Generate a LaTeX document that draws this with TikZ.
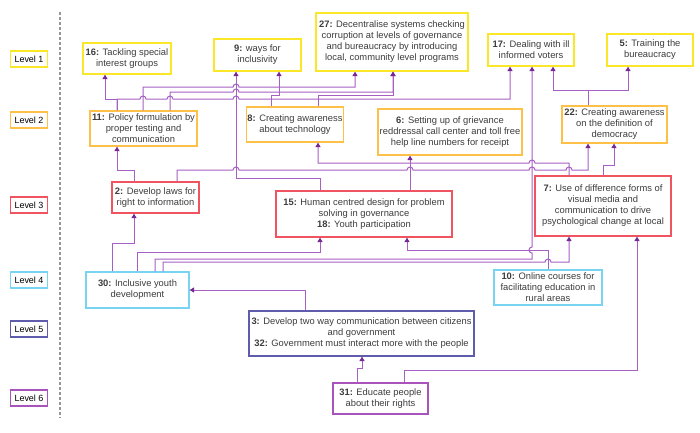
\documentclass[tikz,border=0pt]{standalone}
\usepackage{fontspec}
\setmainfont{Liberation Sans}
\usetikzlibrary{arrows.meta}
\definecolor{cY}{RGB}{250,232,40}
\definecolor{cO}{RGB}{255,192,72}
\definecolor{cR}{RGB}{240,84,96}
\definecolor{cB}{RGB}{120,212,240}
\definecolor{cN}{RGB}{96,92,172}
\definecolor{cP}{RGB}{168,84,188}
\definecolor{lineC}{RGB}{166,96,196}
\definecolor{tipC}{RGB}{118,40,150}
\definecolor{txtC}{RGB}{60,60,60}
\definecolor{dashC}{RGB}{150,150,150}
\begin{document}
\begin{tikzpicture}[x=1bp,y=-1bp,
  box/.style={draw, line width=1.2bp, fill=white, align=center, inner sep=1bp, text=txtC, font=\fontsize{9.4}{11}\selectfont},
  lvl/.style={draw, line width=1.2bp, fill=white, inner sep=1bp, text=black, font=\fontsize{9}{10}\selectfont, minimum width=37bp, minimum height=16bp},
  con/.style={draw=lineC, line width=1bp},
  arr/.style={con, -{Triangle[width=5bp,length=4.5bp,color=tipC]}}]
\useasboundingbox (0,0) rectangle (700,432);
% level labels
\node[lvl, draw=cY] (L1) at (29,59) {Level 1};
\node[lvl, draw=cO] (L2) at (29,120) {Level 2};
\node[lvl, draw=cR] (L3) at (29,205) {Level 3};
\node[lvl, draw=cB] (L4) at (29,280) {Level 4};
\node[lvl, draw=cN] (L5) at (29,329) {Level 5};
\node[lvl, draw=cP] (L6) at (29,398) {Level 6};
\draw[dashC, line width=1.2bp, dash pattern=on 3bp off 2bp] (60,12) -- (60,418);
% level 1
\node[box, draw=cY, minimum width=88bp, minimum height=31bp] (n16) at (127,58.5) {\textbf{16:} Tackling special\\interest groups};
\node[box, draw=cY, minimum width=87bp, minimum height=32bp] (n9) at (257.5,55) {\textbf{9:} ways for\\inclusivity};
\node[box, draw=cY, minimum width=152bp, minimum height=58bp] (n27) at (392,42) {\textbf{27:} Decentralise systems checking\\corruption at levels of governance\\and bureaucracy by introducing\\local, community level programs};
\node[box, draw=cY, minimum width=86bp, minimum height=32bp] (n17) at (531,50) {\textbf{17:} Dealing with ill\\informed voters};
\node[box, draw=cY, minimum width=86bp, minimum height=32bp] (n5) at (650,50) {\textbf{5:} Training the\\bureaucracy};
% level 2
\node[box, draw=cO, minimum width=107bp, minimum height=35bp] (n11) at (143.5,128.5) {\textbf{11:} Policy formulation by\\proper testing and\\communication};
\node[box, draw=cO, minimum width=96bp, minimum height=35bp] (n8) at (295,124.5) {\textbf{8:} Creating awareness\\about technology};
\node[box, draw=cO, minimum width=144bp, minimum height=46bp] (n6) at (450,132) {\textbf{6:} Setting up of grievance\\reddressal call center and toll free\\help line numbers for receipt};
\node[box, draw=cO, minimum width=105bp, minimum height=37bp] (n22) at (614.5,124.5) {\textbf{22:} Creating awareness\\on the definition of\\democracy};
% level 3
\node[box, draw=cR, minimum width=87bp, minimum height=31bp] (n2) at (155.5,197.5) {\textbf{2:} Develop laws for\\right to information};
\node[box, draw=cR, minimum width=176bp, minimum height=46bp] (n15) at (364,214) {\textbf{15:} Human centred design for problem\\solving in governance\\\textbf{18:} Youth participation};
\node[box, draw=cR, minimum width=136bp, minimum height=60bp] (n7) at (603,206) {\textbf{7:} Use of difference forms of\\visual media and\\communication to drive\\psychological change at local};
% level 4
\node[box, draw=cB, minimum width=103bp, minimum height=36bp] (n30) at (137.5,290) {\textbf{30:} Inclusive youth\\development};
\node[box, draw=cB, minimum width=108bp, minimum height=35bp] (n10) at (548,287.5) {\textbf{10:} Online courses for\\facilitating education in\\rural areas};
% level 5
\node[box, draw=cN, minimum width=225bp, minimum height=45bp] (n3) at (361.5,333.5) {\textbf{3:} Develop two way communication between citizens\\and government\\\textbf{32:} Government must interact more with the people};
% level 6
\node[box, draw=cP, minimum width=95bp, minimum height=31bp] (n31) at (380.5,398.5) {\textbf{31:} Educate people\\about their rights};
% connectors level 2 -> 1
\draw[arr] (n11.north -| 117,0) |- (105,99) -- (n16.south -| 105,0);
\draw[arr] (n11.north -| 117,0) -- (117,99) -- (140,99) arc[start angle=180,end angle=0,radius=3bp] -- (167,99) arc[start angle=180,end angle=0,radius=3bp] -- (233,99) arc[start angle=180,end angle=0,radius=3bp] -- (510,99) -- (n17.south -| 510,0);
\draw[arr] (n11.north -| 143,0) -- (143,87) -- (233,87) arc[start angle=180,end angle=0,radius=3bp] -- (355,87) -- (n27.south -| 355,0);
\draw[arr] (n11.north -| 170,0) -- (170,92) -- (233,92) arc[start angle=180,end angle=0,radius=3bp] -- (393,92) -- (n27.south -| 393,0);
\draw[arr] (n8.north -| 318,0) |- (393,95) -- (n27.south -| 393,0);
\draw[arr] (n8.north -| 271,0) |- (279,95) -- (n9.south -| 279,0);
\draw[arr] (n22.north -| 588,0) |- (628,90) -- (n5.south -| 628,0);
\draw[arr] (n22.north -| 588,0) |- (553,90) -- (n17.south -| 553,0);
% level 3 -> upper
\draw[arr] (n15.north -| 320,0) |- (236,178) -- (n9.south -| 236,0);
\draw[arr] (n2.north -| 134,0) |- (117,170) -- (n11.south -| 117,0);
\draw[arr] (n2.north -| 177,0) -- (177,170) -- (233,170) arc[start angle=180,end angle=0,radius=3bp] -- (407,170) arc[start angle=180,end angle=0,radius=3bp] -- (529,170) arc[start angle=180,end angle=0,radius=3bp] -- (566,170) arc[start angle=180,end angle=0,radius=3bp] -- (588,170) -- (n22.south -| 588,0);
\draw[arr] (n15.north -| 410,0) -- (n6.south -| 410,0);
\draw[arr] (n7.north -| 569,0) -- (569,163) -- (535,163) arc[start angle=0,end angle=180,radius=3bp] -- (318,163) -- (n8.south -| 318,0);
\draw[arr] (n7.north -| 603,0) |- (614,165) -- (n22.south -| 614,0);
% level 4 -> upper
\draw[arr] (n30.north -| 155,0) -- (155,259) -- (532,259) -- (532,253) arc[start angle=270,end angle=90,radius=3bp] -- (n17.south -| 532,0);
\draw[arr] (n30.north -| 163,0) -- (163,262) -- (545,262) arc[start angle=180,end angle=0,radius=3bp] -- (569,262) -- (n7.south -| 569,0);
\draw[arr] (n10.north -| 548,0) |- (407,250) -- (n15.south -| 407,0);
\draw[arr] (n30.north -| 137,0) |- (320,252) -- (n15.south -| 320,0);
\draw[arr] (n30.north -| 112,0) |- (134,243) -- (n2.south -| 134,0);
% level 5, 6
\draw[arr] (n3.north -| 305,0) |- (n30.east);
\draw[arr] (n31.north -| 357,0) |- (362,368) -- (n3.south -| 362,0);
\draw[arr] (n31.north -| 404,0) |- (637,370) -- (n7.south -| 637,0);
\end{tikzpicture}
\end{document}
